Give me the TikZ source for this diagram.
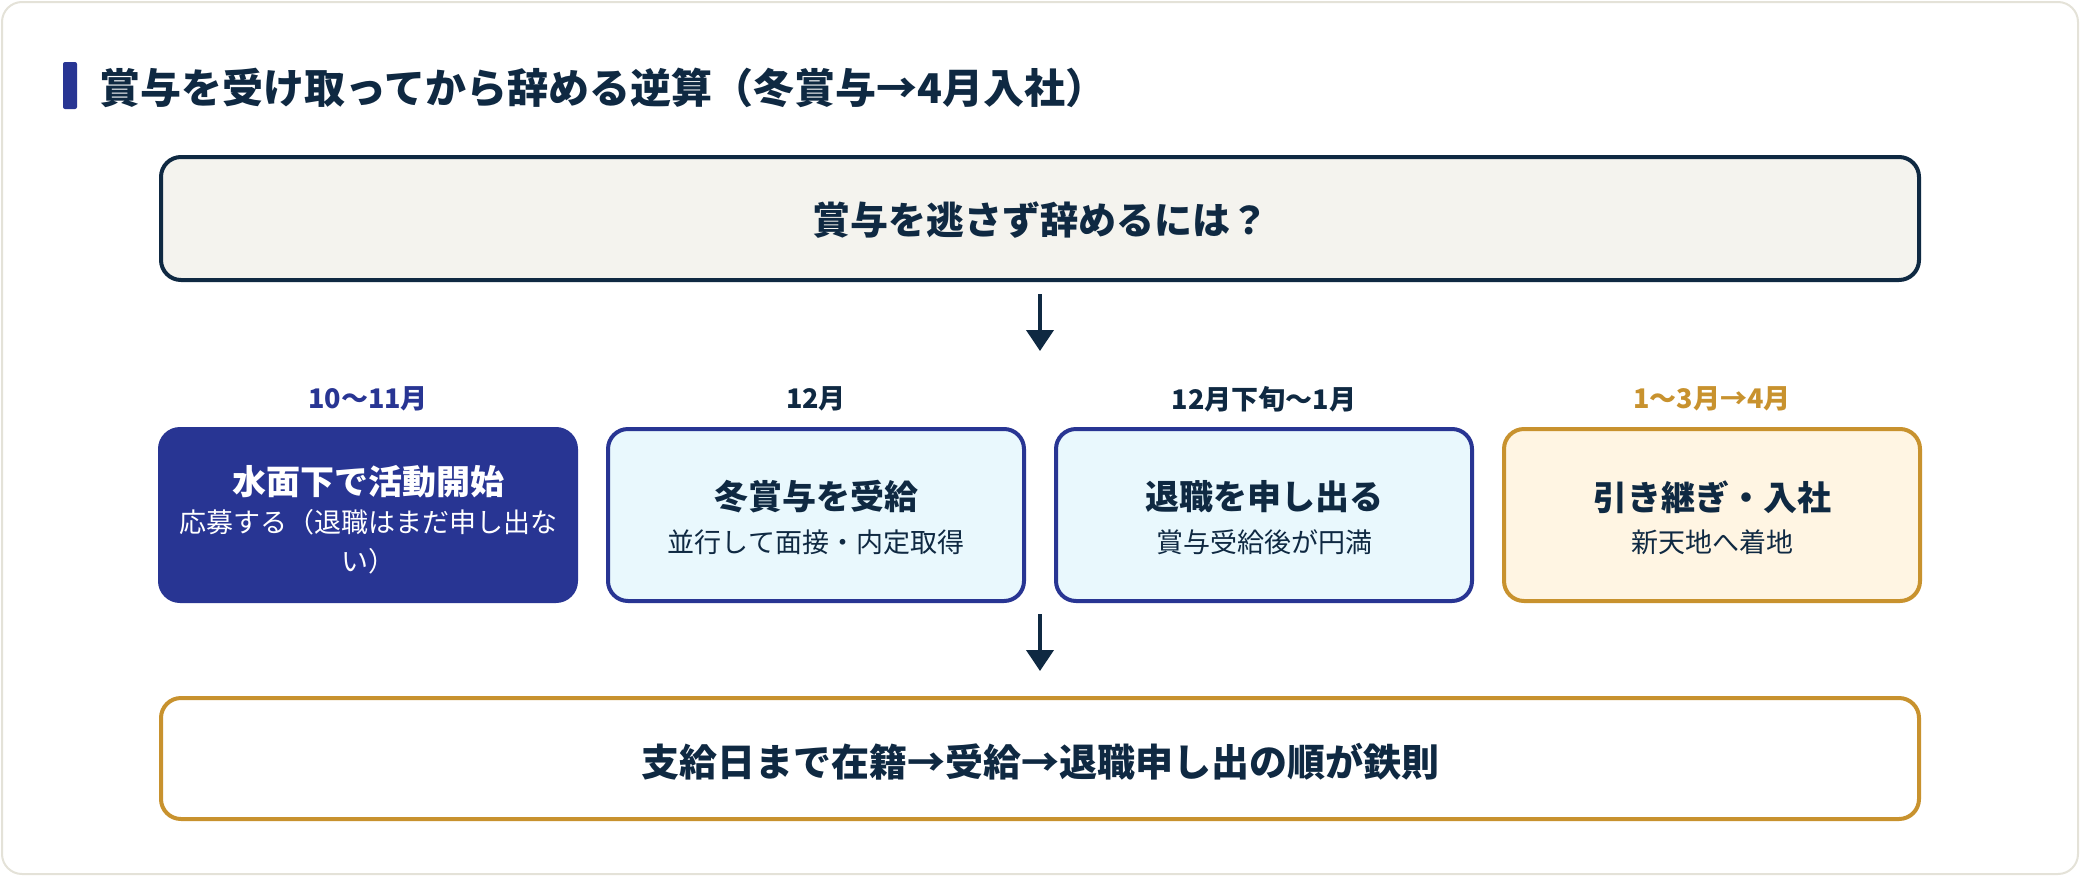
\documentclass[tikz,border=0pt]{standalone}
\usepackage{fontspec}
\setmainfont{Noto Sans CJK JP}
\usetikzlibrary{arrows.meta}
\definecolor{navy}{HTML}{0F2942}
\definecolor{indigo}{HTML}{283593}
\definecolor{gold}{HTML}{C8922E}
\definecolor{cardline}{HTML}{E4E2D8}
\definecolor{qfill}{HTML}{F4F3EE}
\definecolor{bluefill}{HTML}{E9F8FD}
\definecolor{goldfill}{HTML}{FFF5E3}
\tikzset{
  card/.style={draw=cardline, line width=2pt, fill=white, rounded corners=20pt},
  bigbox/.style={line width=4pt, rounded corners=20pt},
  stepbox/.style={line width=4pt, rounded corners=20pt},
  steptitle/.style={font=\bfseries\fontsize{34}{40}\selectfont, text=navy, anchor=center, inner sep=0pt},
  stepsub/.style={font=\fontsize{27}{39}\selectfont, text=navy, anchor=center, inner sep=0pt, align=center},
  steplabel/.style={font=\bfseries\fontsize{27}{32}\selectfont, anchor=center, inner sep=0pt},
  arr/.style={draw=navy, line width=4pt, -{Triangle[width=27pt,length=21pt]}},
}
\begin{document}
\begin{tikzpicture}[x=1pt,y=-1pt]
\useasboundingbox (0,0) rectangle (2080,876);
\draw[card] (2,2) rectangle (2078,874);
% title
\fill[indigo, rounded corners=2pt] (63,62) rectangle (77,109);
\node[anchor=west, inner sep=0pt, font=\bfseries\fontsize{41}{48}\selectfont, text=navy] (title) at (99,88) {賞与を受け取ってから辞める逆算（冬賞与→4月入社）};
% top question box
\draw[bigbox, draw=navy, fill=qfill] (161,157) rectangle (1919,280);
\node[inner sep=0pt, font=\bfseries\fontsize{38}{44}\selectfont, text=navy] (q) at (1040,220) {賞与を逃さず辞めるには？};
\coordinate (qb) at (1040,280);
\coordinate (a1) at (1040,351);
\draw[arr, shorten <=14pt] (qb) -- (a1);
% labels
\node[steplabel, text=indigo] (l1) at (368,399) {10〜11月};
\node[steplabel, text=navy] (l2) at (816,399) {12月};
\node[steplabel, text=navy] (l3) at (1264,399) {12月下旬〜1月};
\node[steplabel, text=gold] (l4) at (1712,399) {1〜3月→4月};
% step boxes
\draw[stepbox, draw=indigo, fill=indigo] (160,429) rectangle (576,601);
\draw[stepbox, draw=indigo, fill=bluefill] (608,429) rectangle (1024,601);
\draw[stepbox, draw=indigo, fill=bluefill] (1056,429) rectangle (1472,601);
\draw[stepbox, draw=gold, fill=goldfill] (1504,429) rectangle (1920,601);
\node[steptitle, text=white] (t1) at (368,482) {水面下で活動開始};
\node[stepsub, text=white] (s1) at (368,542) {応募する（退職はまだ申し出な\\い）};
\node[steptitle] (t2) at (816,497) {冬賞与を受給};
\node[stepsub] (s2) at (816,542) {並行して面接・内定取得};
\node[steptitle] (t3) at (1264,497) {退職を申し出る};
\node[stepsub] (s3) at (1264,542) {賞与受給後が円満};
\node[steptitle] (t4) at (1712,497) {引き継ぎ・入社};
\node[stepsub] (s4) at (1712,542) {新天地へ着地};
% second arrow
\coordinate (b0) at (1040,614);
\coordinate (b1) at (1040,671);
\draw[arr] (b0) -- (b1);
% bottom box
\draw[bigbox, draw=gold, fill=white] (161,698) rectangle (1919,819);
\node[inner sep=0pt, font=\bfseries\fontsize{38}{44}\selectfont, text=navy] (rule) at (1040,762) {支給日まで在籍→受給→退職申し出の順が鉄則};
\end{tikzpicture}
\end{document}
